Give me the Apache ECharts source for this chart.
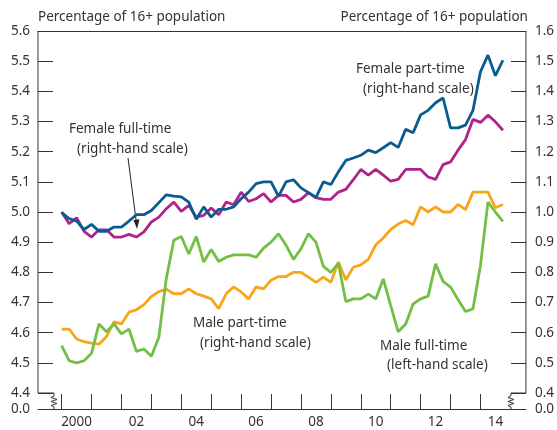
<!DOCTYPE html>
<html>
<head>
<meta charset="utf-8">
<script src="https://cdn.jsdelivr.net/npm/echarts@6/dist/echarts.min.js"></script>
<style>
    html, body { margin: 0; padding: 0; background: #fff; }
    #chart { width: 557px; height: 430px; }
</style>
</head>
<body>
<div id="chart"></div>
<script>
    // quarterly data, first point is 2000 Q1
    const firstYear = 2000

    // right-hand scale
    const femalePartTime = [0.998, 0.978, 0.970, 0.942, 0.959, 0.936, 0.936, 0.950, 0.950, 0.970,
        0.991, 0.991, 1.005, 1.031, 1.057, 1.053, 1.050, 1.033, 0.976, 1.017,
        0.983, 1.009, 1.009, 1.017, 1.044, 1.066, 1.094, 1.100, 1.100, 1.052,
        1.100, 1.107, 1.080, 1.064, 1.048, 1.100, 1.091, 1.133, 1.171, 1.179,
        1.188, 1.205, 1.197, 1.213, 1.230, 1.214, 1.274, 1.263, 1.322, 1.337,
        1.362, 1.378, 1.279, 1.279, 1.288, 1.337, 1.465, 1.520, 1.452, 1.503]
    const femaleFullTime = [1.000, 0.961, 0.981, 0.936, 0.917, 0.941, 0.941, 0.917, 0.917, 0.926,
        0.917, 0.934, 0.967, 0.983, 1.011, 1.033, 1.002, 1.022, 0.983, 0.989,
        1.013, 0.991, 1.033, 1.024, 1.066, 1.035, 1.044, 1.061, 1.033, 1.055,
        1.055, 1.033, 1.042, 1.064, 1.048, 1.042, 1.042, 1.066, 1.075, 1.107,
        1.141, 1.122, 1.141, 1.122, 1.102, 1.108, 1.141, 1.141, 1.141, 1.116,
        1.108, 1.157, 1.166, 1.205, 1.240, 1.307, 1.297, 1.321, 1.299, 1.271]
    const malePartTime = [0.612, 0.612, 0.579, 0.570, 0.565, 0.562, 0.587, 0.636, 0.629, 0.668,
        0.676, 0.693, 0.720, 0.736, 0.744, 0.729, 0.729, 0.745, 0.729, 0.721,
        0.712, 0.680, 0.729, 0.752, 0.735, 0.712, 0.752, 0.745, 0.774, 0.786,
        0.786, 0.800, 0.800, 0.784, 0.767, 0.784, 0.767, 0.834, 0.775, 0.817,
        0.825, 0.843, 0.891, 0.914, 0.942, 0.960, 0.972, 0.958, 1.017, 1.000,
        1.017, 1.000, 1.000, 1.025, 1.008, 1.066, 1.066, 1.066, 1.014, 1.025]
    // left-hand scale
    const maleFullTime = [4.557, 4.507, 4.500, 4.507, 4.532, 4.629, 4.603, 4.629, 4.596, 4.612,
        4.538, 4.546, 4.522, 4.585, 4.780, 4.906, 4.919, 4.861, 4.919, 4.834,
        4.876, 4.836, 4.850, 4.858, 4.858, 4.858, 4.850, 4.880, 4.900, 4.928,
        4.890, 4.843, 4.878, 4.928, 4.900, 4.820, 4.800, 4.830, 4.703, 4.712,
        4.712, 4.728, 4.712, 4.778, 4.690, 4.603, 4.629, 4.695, 4.712, 4.721,
        4.828, 4.770, 4.751, 4.710, 4.670, 4.679, 4.823, 5.033, 5.000, 4.969]

    const leftTicks = [4.4, 4.5, 4.6, 4.7, 4.8, 4.9, 5.0, 5.1, 5.2, 5.3, 5.4, 5.5, 5.6]
    const rightTicks = [0.4, 0.5, 0.6, 0.7, 0.8, 0.9, 1.0, 1.1, 1.2, 1.3, 1.4, 1.5, 1.6]
    const yearTicks = [2000, 2001, 2002, 2003, 2004, 2005, 2006, 2007, 2008, 2009, 2010, 2011, 2012, 2013, 2014]
    const yearLabels = [2000, 2002, 2004, 2006, 2008, 2010, 2012, 2014]

    // the scale is broken between 0.0 and the first tick
    const leftMin = 4.347, leftMax = 5.6
    const rightMin = 0.347, rightMax = 1.6
    const xMin = 1999.21, xMax = 2015.52

    const FONT = '"Noto Sans", sans-serif'
    const SIZE = 13.5
    const TEXT = '#333'
    const AXIS = '#333'
    const LINE_W = 2.8

    const toPairs = arr => arr.map((v, i) => [firstYear + i / 4, v])

    const yLabel = (v, min) => v < min + 0.01 ? '0.0' : v.toFixed(1)

    let chart = echarts.init(document.getElementById('chart'))

    let option = {
        animation: false,
        backgroundColor: '#fff',
        grid: {left: 38, right: 29, top: 31, bottom: 21},
        xAxis: [
            {
                type: 'value',
                min: xMin,
                max: xMax,
                splitLine: {show: false},
                axisLine: {show: true, lineStyle: {color: AXIS, width: 1}},
                axisTick: {
                    show: true, inside: true, length: 15,
                    customValues: yearTicks,
                    lineStyle: {color: AXIS, width: 1}
                },
                axisLabel: {
                    customValues: yearLabels.map(y => y + 0.5),
                    formatter: v => {
                        let y = Math.floor(v)
                        return y === 2000 ? '2000' : String(y).slice(2)
                    },
                    margin: 6,
                    color: TEXT, fontFamily: FONT, fontSize: SIZE
                }
            },
            {
                type: 'value',
                position: 'top',
                min: xMin,
                max: xMax,
                splitLine: {show: false},
                axisLine: {show: true, lineStyle: {color: AXIS, width: 1}},
                axisTick: {show: false},
                axisLabel: {show: false}
            }
        ],
        yAxis: [
            {
                type: 'value',
                min: leftMin,
                max: leftMax,
                name: 'Percentage of 16+ population',
                nameLocation: 'end',
                nameGap: 7,
                nameTextStyle: {align: 'left', color: TEXT, fontFamily: FONT, fontSize: SIZE},
                splitLine: {show: false},
                axisLine: {show: false},
                axisTick: {
                    show: true, inside: true, length: 15,
                    customValues: leftTicks.slice(0, -1),
                    lineStyle: {color: AXIS, width: 1}
                },
                axisLabel: {
                    customValues: [leftMin].concat(leftTicks),
                    showMinLabel: true, showMaxLabel: true,
                    formatter: v => yLabel(v, leftMin),
                    margin: 8,
                    color: TEXT, fontFamily: FONT, fontSize: SIZE
                }
            },
            {
                type: 'value',
                min: rightMin,
                max: rightMax,
                position: 'right',
                name: 'Percentage of 16+ population',
                nameLocation: 'end',
                nameGap: 7,
                nameTextStyle: {align: 'right', padding: [0, -2, 0, 0], color: TEXT, fontFamily: FONT, fontSize: SIZE},
                splitLine: {show: false},
                axisLine: {show: false},
                axisTick: {
                    show: true, inside: true, length: 15,
                    customValues: rightTicks.slice(0, -1),
                    lineStyle: {color: AXIS, width: 1}
                },
                axisLabel: {
                    customValues: [rightMin].concat(rightTicks),
                    showMinLabel: true, showMaxLabel: true,
                    formatter: v => yLabel(v, rightMin),
                    margin: 9,
                    color: TEXT, fontFamily: FONT, fontSize: SIZE
                }
            }
        ],
        series: [
            {
                name: 'Male part-time',
                type: 'line',
                yAxisIndex: 1,
                showSymbol: false,
                data: toPairs(malePartTime),
                lineStyle: {color: '#f9a51a', width: LINE_W},
                itemStyle: {color: '#f9a51a'}
            },
            {
                name: 'Male full-time',
                type: 'line',
                yAxisIndex: 0,
                showSymbol: false,
                data: toPairs(maleFullTime),
                lineStyle: {color: '#72bf44', width: LINE_W},
                itemStyle: {color: '#72bf44'}
            },
            {
                name: 'Female full-time',
                type: 'line',
                yAxisIndex: 1,
                showSymbol: false,
                data: toPairs(femaleFullTime),
                lineStyle: {color: '#b0228c', width: LINE_W},
                itemStyle: {color: '#b0228c'}
            },
            {
                name: 'Female part-time',
                type: 'line',
                yAxisIndex: 1,
                showSymbol: false,
                data: toPairs(femalePartTime),
                lineStyle: {color: '#0b5c8e', width: LINE_W},
                itemStyle: {color: '#0b5c8e'}
            }
        ]
    }

    chart.setOption(option)

    // axis lines with the scale-break zigzags, placed from the axes themselves
    function zigzag(x, y0, y1) {
        return [[x, y0], [x, y0 + 3], [x - 3, y0 + 4.5], [x + 3, y0 + 6.5], [x - 3, y0 + 8.5],
            [x + 3, y0 + 10.5], [x - 3, y0 + 12.5], [x, y0 + 14], [x, y1]]
    }

    let yTop = chart.convertToPixel({yAxisIndex: 0}, leftMax)
    let yBreak = chart.convertToPixel({yAxisIndex: 0}, 4.4)
    let yBottom = chart.convertToPixel({yAxisIndex: 0}, leftMin)
    let xl = chart.convertToPixel({xAxisIndex: 0}, xMin)
    let xr = chart.convertToPixel({xAxisIndex: 0}, xMax)

    let lineStyle = {stroke: AXIS, lineWidth: 1, fill: null}
    let label = (text, x, y) => ({
        type: 'text', x: x, y: y,
        style: {text: text, fill: TEXT, font: SIZE + 'px ' + FONT, textVerticalAlign: 'middle'}
    })

    chart.setOption({
        graphic: [
            {
                type: 'polyline',
                shape: {points: [[xl, yTop], [xl, yBreak], [xl + 16, yBreak]].concat(zigzag(xl + 16, yBreak, yBottom))},
                style: lineStyle
            },
            {
                type: 'polyline',
                shape: {points: [[xr, yTop], [xr, yBreak], [xr - 15, yBreak]].concat(zigzag(xr - 15, yBreak, yBottom))},
                style: lineStyle
            },
            label('Female full-time', 69, 129),
            label('(right-hand scale)', 77, 149),
            {
                type: 'line',
                shape: {x1: 128, y1: 158, x2: 136.3, y2: 222},
                style: {stroke: '#222', lineWidth: 1}
            },
            {
                type: 'polygon',
                shape: {points: [[133.5, 220], [139.5, 219.3], [137, 229]]},
                style: {fill: '#222'}
            },
            label('Female part-time', 356, 69),
            label('(right-hand scale)', 363, 89),
            label('Male part-time', 193, 323),
            label('(right-hand scale)', 200, 343),
            label('Male full-time', 380, 346),
            label('(left-hand scale)', 387, 365)
        ]
    })
</script>
</body>
</html>
